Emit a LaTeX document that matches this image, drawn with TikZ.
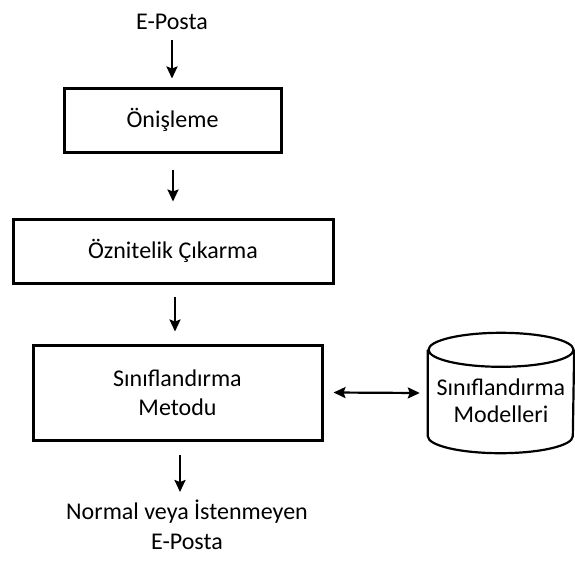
\documentclass[tikz,border=0pt]{standalone}
\usepackage{fontspec}
\setmainfont{Carlito}
\usetikzlibrary{arrows.meta,calc}
\begin{document}
\begin{tikzpicture}[x=1pt,y=-1pt,
  txt/.style={inner sep=0pt,align=center,font=\fontsize{24}{29}\selectfont},
  stage/.style={txt,draw,line width=3pt,inner sep=0pt},
  arr/.style={line width=2.2pt,-{Stealth[length=12pt,width=11pt,inset=2pt]}},
  darr/.style={line width=2.2pt,{Stealth[length=12pt,width=11pt,inset=2pt]}-{Stealth[length=12pt,width=11pt,inset=2pt]}},
  dbline/.style={line width=2.2pt}]
\useasboundingbox (0,0) rectangle (575,565);

% input and processing stages
\node[txt] (in) at (172,22) {E-Posta};
\node[stage,minimum width=217pt,minimum height=64pt] (b1) at (172.5,120) {Önişleme};
\node[stage,minimum width=320pt,minimum height=64pt] (b2) at (173,251) {Öznitelik Çıkarma};
\node[stage,minimum width=289pt,minimum height=95pt] (b3) at (177.5,392.5) {Sınıflandırma\\Metodu};
\node[txt,font=\fontsize{24}{30}\selectfont] (out) at (187,525) {Normal veya İstenmeyen\\E-Posta};

% model store (cylinder outline around its label)
\node[inner sep=0pt,minimum width=146pt,minimum height=120pt] (cyl) at (501,393) {};
\node[txt,font=\fontsize{24}{27}\selectfont] (cyltxt) at (501,401) {Sınıflandırma\\Modelleri};
\draw[dbline] ($(cyl.north)+(0,17)$) ellipse [x radius=72.5pt, y radius=17pt];
\draw[dbline] ($(cyl.north west)+(0,17)$) -- ($(cyl.south west)+(0,-17)$)
  arc[start angle=180,end angle=360,x radius=72.5pt,y radius=17pt]
  -- ($(cyl.north east)+(0,17)$);

% flow arrows
\draw[arr] ([yshift=-18]in.center) -- ([yshift=8]in.center |- b1.north);
\draw[arr] ([xshift=0.5,yshift=-16]b1.south) -- ([xshift=0.5,yshift=16]b1.south |- b2.north);
\draw[arr] ([xshift=2,yshift=-12]b2.south) -- ([xshift=2,yshift=12]b2.south |- b3.north);
\draw[arr] ([xshift=2.5,yshift=-13]b3.south) -- ([xshift=-7,yshift=33]out.center);
\draw[darr] ([xshift=10]b3.east) -- ([xshift=-8]cyl.west);
\end{tikzpicture}
\end{document}
